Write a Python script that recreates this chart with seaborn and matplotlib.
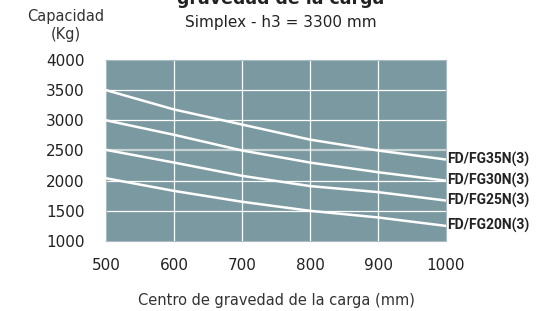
import matplotlib

matplotlib.use("Agg")
import matplotlib.pyplot as plt
import pandas as pd
import seaborn as sns

centers = [500, 600, 700, 800, 900, 1000]
fg35 = [3500, 3180, 2930, 2680, 2500, 2350]
fg30 = [3000, 2760, 2500, 2300, 2140, 2000]
fg25 = [2510, 2300, 2080, 1910, 1810, 1670]
fg20 = [2040, 1830, 1650, 1500, 1390, 1250]
series_names = ["FD/FG35N(3)", "FD/FG30N(3)", "FD/FG25N(3)", "FD/FG20N(3)"]
y_ticks = [1000, 1500, 2000, 2500, 3000, 3500, 4000]
x_ticks = [500, 600, 700, 800, 900, 1000]

sns.set_theme(style="white")
plt.rcParams["font.family"] = ["DejaVu Sans"]

frames = []
for name, vals in zip(series_names, [fg35, fg30, fg25, fg20]):
    frames.append(pd.DataFrame({"centro": centers, "capacidad": vals, "modelo": name}))
df = pd.concat(frames, ignore_index=True)

fig = plt.figure(figsize=(5.44, 3.11), dpi=100)
ax = fig.add_axes([0.1949, 0.2251, 0.625, 0.5820])
ax.set_facecolor("#7b99a1")

# grid drawn by hand so the 2500 line can be lighter
for yv in y_ticks[1:-1]:
    if yv == 2500:
        ax.axhline(yv, color="#c9d2d4", lw=1.6, zorder=1)
    else:
        ax.axhline(yv, color="white", lw=0.9, zorder=1)
for xv in x_ticks[1:-1]:
    ax.axvline(xv, color="white", lw=0.9, zorder=1)

sns.lineplot(
    data=df, x="centro", y="capacidad", hue="modelo",
    palette=["white"] * 4, linewidth=1.8, legend=False, ax=ax, zorder=3,
)

for name, vals in zip(series_names, [fg35, fg30, fg25, fg20]):
    ax.annotate(name, xy=(centers[-1], vals[-1]), xytext=(1, 0),
                textcoords="offset points", ha="left", va="center",
                fontsize=10, fontweight="bold", color="#222222",
                family="Roboto", annotation_clip=False)

ax.set_xlim(500, 1000)
ax.set_ylim(1000, 4000)
ax.set_xticks(x_ticks)
ax.set_yticks(y_ticks)
ax.tick_params(axis="both", length=0, labelsize=11, colors="#222222")
ax.tick_params(axis="y", pad=15.5)
ax.tick_params(axis="x", pad=12.5)
for s in ax.spines.values():
    s.set_color("#a9bcc1")
    s.set_linewidth(0.8)

ax.set_xlabel("Centro de gravedad de la carga (mm)", fontsize=10.5,
              color="#333333", labelpad=14.5)
ax.set_ylabel("")

fig.text(66 / 544, 1 - 25 / 311, "Capacidad\n(Kg)", ha="center", va="center",
         fontsize=10.5, color="#333333", linespacing=1.25)
fig.text(281 / 544, 1 - 4 / 311, "gravedad de la carga", ha="center",
         va="baseline", fontsize=12.5, fontweight="bold", color="#222222")
fig.text(281 / 544, 1 - 23 / 311, "Simplex - h3 = 3300 mm", ha="center",
         va="center", fontsize=11, color="#222222")

fig.savefig("out.png", dpi=100)
